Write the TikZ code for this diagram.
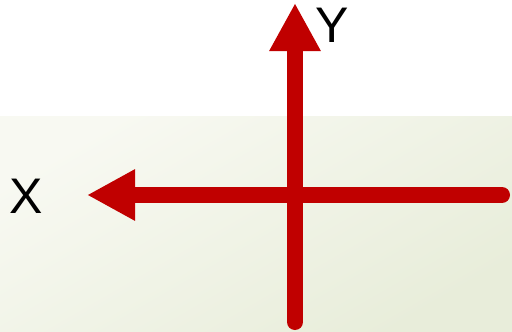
\documentclass[tikz,border=0pt]{standalone}
\usepackage{fontspec}
\setmainfont{Liberation Sans}
\usepackage{xcolor}
\usetikzlibrary{arrows.meta}
\definecolor{AxisRed}{HTML}{C00000}
\definecolor{PlaneLight}{HTML}{F8F9F2}
\definecolor{PlaneDark}{HTML}{E8EDDA}

\begin{document}
\begin{tikzpicture}[
  x=1pt, y=-1pt,
  axis/.style={AxisRed, line width=16pt, line cap=round, -{Triangle[length=48pt, width=48pt]}},
  lbl/.style={font=\fontsize{50}{50}\selectfont, inner sep=0pt, anchor=base}
]
  \useasboundingbox (0,0) rectangle (512,332);
  \shade[top color=PlaneLight, bottom color=PlaneDark, shading angle=30] (0,116) rectangle (512,332);

  \coordinate (yfoot) at (295,322);
  \coordinate (ytip) at (295,3);
  \coordinate (xfoot) at (502,195);
  \coordinate (xtip) at (87,195);

  \node[lbl] (ylabel) at (332.5,42) {Y};
  \node[lbl] (xlabel) at (26,213) {X};

  \draw[axis] (yfoot) -- (ytip);
  \draw[axis] (xfoot) -- (xtip);
\end{tikzpicture}
\end{document}
